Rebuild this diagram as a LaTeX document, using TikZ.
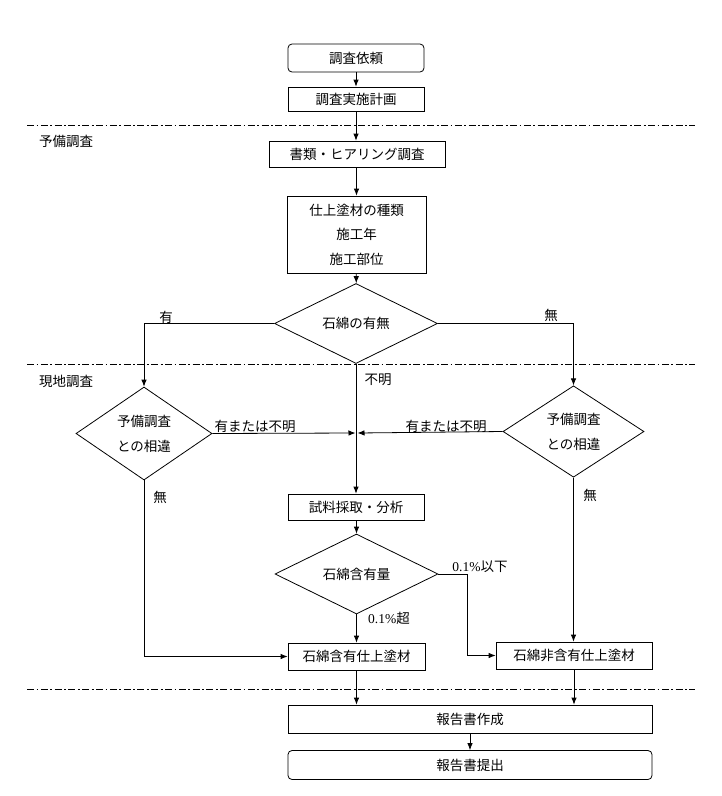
\documentclass[tikz,border=0pt]{standalone}
\usepackage{fontspec}
\setmainfont{Noto Sans CJK JP}
\newfontfamily\numfont{Liberation Serif}
\usetikzlibrary{shapes.geometric,arrows.meta}
\begin{document}
\begin{tikzpicture}[x=1pt,y=-1pt,
  every node/.style={font=\fontsize{13.5}{16}\selectfont, inner sep=0pt},
  stepbox/.style={draw, line width=0.8pt},
  roundbox/.style={stepbox, rounded corners=4pt},
  decide/.style={diamond, draw, line width=0.8pt, align=center,
     font=\fontsize{13.5}{25}\selectfont},
  conn/.style={line width=0.8pt},
  arr/.style={conn, -{Latex[length=7pt,width=5.5pt]}},
  sep/.style={line width=0.9pt, dash pattern=on 7pt off 2.5pt on 1.8pt off 2.5pt},
  lbl/.style={fill=none}]
\path[use as bounding box, fill=white] (0,0) rectangle (722,796);

% separators
\draw[sep] (27,125) -- (695,125);
\draw[sep] (27,364) -- (695,364);
\draw[sep] (27,689) -- (695,689);
\node[lbl] (sec1) at (66,141) {予備調査};
\node[lbl] (sec2) at (66,381) {現地調査};

% boxes
\node[roundbox, minimum width=136pt, minimum height=28pt] (n1) at (356,58) {調査依頼};
\node[stepbox, minimum width=136pt, minimum height=24pt] (n2) at (356,99) {調査実施計画};
\node[stepbox, minimum width=176pt, minimum height=26pt] (n3) at (357,154) {書類・ヒアリング調査};
\node[stepbox, minimum width=139pt, minimum height=77pt, align=center,
      font=\fontsize{13.5}{24.5}\selectfont] (n4) at (356.5,234.5) {仕上塗材の種類\\施工年\\施工部位};
\node[decide, minimum width=163pt, minimum height=61pt] (d1) at (356,323.5) {石綿の有無};
\node[decide, minimum width=136pt, minimum height=93pt] (dL) at (144,433.5) {予備調査\\との相違};
\node[decide, minimum width=141pt, minimum height=91pt] (dR) at (573.5,431.5) {予備調査\\との相違};
\node[stepbox, minimum width=136pt, minimum height=26pt] (n5) at (356,507) {試料採取・分析};
\node[decide, minimum width=163pt, minimum height=62pt] (d2) at (356.5,574) {石綿含有量};
\node[stepbox, minimum width=137pt, minimum height=27pt] (n6) at (356.5,656.5) {石綿含有仕上塗材};
\node[stepbox, minimum width=156pt, minimum height=27pt] (n7) at (574,655.5) {石綿非含有仕上塗材};
\node[stepbox, minimum width=364pt, minimum height=28pt] (n8) at (470,719) {報告書作成};
\node[roundbox, minimum width=364pt, minimum height=29pt] (n9) at (470,765) {報告書提出};

% junction coordinates
\coordinate (jL) at (355.5,433);
\coordinate (jR) at (357.5,433);
\coordinate (k) at (467,574);

% connectors
\draw[arr] (n1) -- (n2);
\draw[arr] (n2.south) -- (n2.south |- n3.north);
\draw[arr] (n3.south -| n4.north) -- (n4.north);
\draw[arr] (n4) -- (d1);
\draw[arr] (d1.west) -| (dL.north);
\draw[arr] (d1.east) -| (dR.north);
\draw[arr] (d1.south) -- (d1.south |- n5.north);
\draw[arr] (dL.east) -- (jL);
\draw[arr] (dR.west) -- (jR);
\draw[arr] (n5.south -| d2.north) -- (d2.north);
\draw[arr] (d2.south) -- (d2.south |- n6.north);
\draw[arr] (d2.east) -- (k) |- (n7.west);
\draw[arr] (dL.south) |- (n6.west);
\draw[arr] (dR.south) -- (dR.south |- n7.north);
\draw[arr] (n6.south) -- (n6.south |- n8.north);
\draw[arr] (n7.south) -- (n7.south |- n8.north);
\draw[arr] (n8) -- (n9);

% labels
\node[lbl] (l1) at (166,317) {有};
\node[lbl] (l2) at (551,315) {無};
\node[lbl] (l3) at (378,380) {不明};
\node[lbl] (l4) at (255,426) {有または不明};
\node[lbl] (l5) at (446,426) {有または不明};
\node[lbl] (l6) at (160,497) {無};
\node[lbl] (l7) at (590,495) {無};
\node[lbl] (l8) at (480,567) {{\numfont 0.1\%}以下};
\node[lbl] (l9) at (389,618) {{\numfont 0.1\%}超};
\end{tikzpicture}
\end{document}
